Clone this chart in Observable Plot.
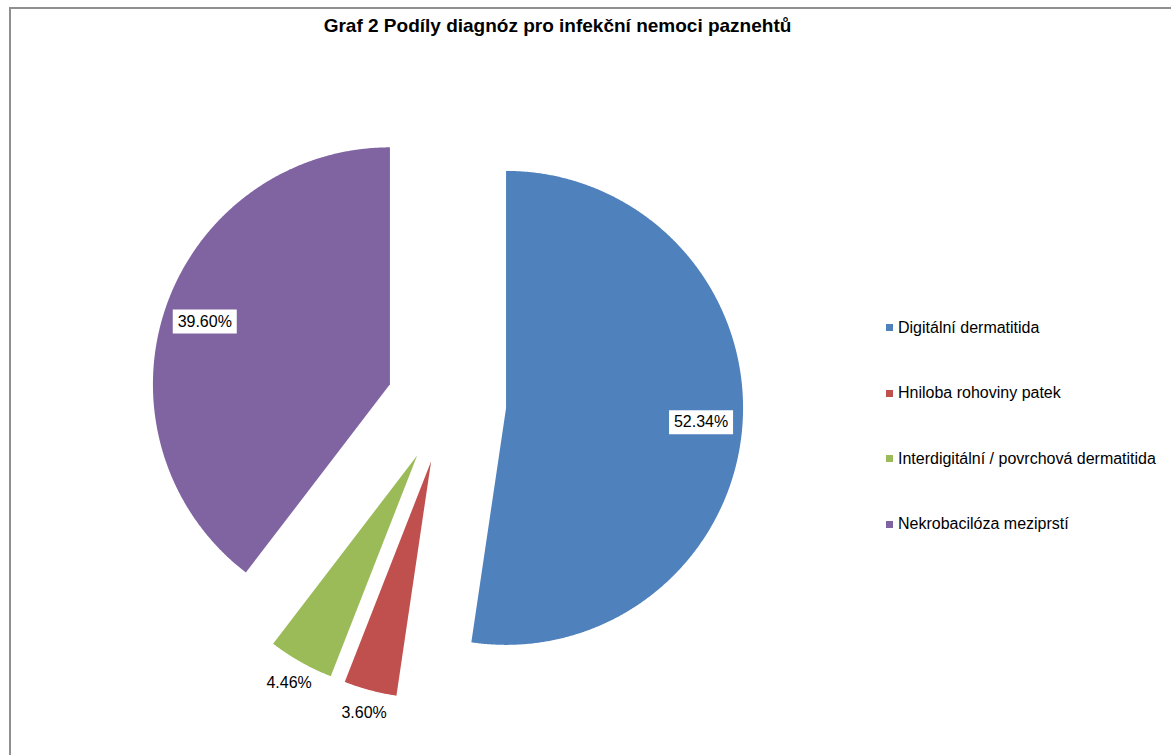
<!DOCTYPE html>
<html>
<head>
<meta charset="utf-8">
<script src="https://cdn.jsdelivr.net/npm/d3@7"></script>
<script src="https://cdn.jsdelivr.net/npm/@observablehq/plot@0.6"></script>
<style>
  html, body { margin: 0; padding: 0; background: #fff; }
  #wrap { position: relative; width: 1171px; height: 755px; overflow: hidden; font-family: Arial, "Liberation Sans", sans-serif; }
  #frame { position: absolute; left: 9px; top: 7px; width: 1300px; height: 900px; border-top: 2px solid #8f8f8f; border-left: 2px solid #8f8f8f; box-sizing: border-box; }
  #chart { position: absolute; left: 0; top: 0; }
  #title { position: absolute; left: 0; width: 1115px; top: 16px; text-align: center; font-weight: bold; font-size: 19px; line-height: 19px; color: #000; white-space: nowrap; }
  #legend { position: absolute; left: 886px; top: 295px; }
  .item { height: 65.5px; display: flex; align-items: center; font-size: 16px; color: #000; white-space: nowrap; }
  .sw { width: 7px; height: 7px; margin-right: 5px; flex: none; }
</style>
</head>
<body>
<div id="wrap">
  <div id="frame"></div>
  <div id="chart"></div>
  <div id="title"></div>
  <div id="legend"></div>
</div>
<script>
// ---- data ----
const title = "Graf 2 Podíly diagnóz pro infekční nemoci paznehtů";
const categories = [
  "Digitální dermatitida",
  "Hniloba rohoviny patek",
  "Interdigitální / povrchová dermatitida",
  "Nekrobacilóza meziprstí"
];
const shares = [52.34, 3.60, 4.46, 39.60];

// ---- styles ----
const colors = ["#4F81BD", "#C0504D", "#9BBB59", "#8064A2"];
const W = 1171, H = 755;
const cxPx = 446, cyPx = 403, rPx = 237;   // pie centre & radius (layout)
const explode = 0.252;                     // explosion, fraction of radius

// ---- geometry from d3.pie (unit radius, y up) ----
const arcs = d3.pie().sort(null).value(d => d)(shares);
const slicePts = [];
const labels = [];
arcs.forEach((a, i) => {
  const cat = categories[i];
  const mid = (a.startAngle + a.endAngle) / 2;
  const ox = explode * Math.sin(mid), oy = explode * Math.cos(mid);
  slicePts.push({cat, x: ox, y: oy});
  const n = Math.max(4, Math.ceil((a.endAngle - a.startAngle) / 0.005));
  for (let k = 0; k <= n; k++) {
    const t = a.startAngle + (a.endAngle - a.startAngle) * k / n;
    slicePts.push({cat, x: ox + Math.sin(t), y: oy + Math.cos(t)});
  }
  slicePts.push({cat, x: ox, y: oy});
  const inside = shares[i] > 10;
  const lr = inside ? 0.825 : 1.1;
  labels.push({cat, inside, x: ox + lr * Math.sin(mid), y: oy + lr * Math.cos(mid), text: shares[i].toFixed(2) + "%"});
});

const boxSymbol = { draw(ctx) { ctx.rect(-32, -12, 64, 24); } };

const plot = Plot.plot({
  width: W,
  height: H,
  marginTop: 0, marginRight: 0, marginBottom: 0, marginLeft: 0,
  x: {axis: null, domain: [-cxPx / rPx, (W - cxPx) / rPx]},
  y: {axis: null, domain: [-(H - cyPx) / rPx, cyPx / rPx]},
  color: {domain: categories, range: colors},
  style: {fontFamily: "Arial, 'Liberation Sans', sans-serif", background: "transparent"},
  marks: [
    Plot.line(slicePts, {x: "x", y: "y", z: "cat", fill: "cat", stroke: "none", curve: "linear"}),
    Plot.dot(labels.filter(d => d.inside), {x: "x", y: "y", symbol: boxSymbol, fill: "white", stroke: "none"}),
    Plot.text(labels, {x: "x", y: "y", text: "text", fontSize: 16, fill: "#000", fontFamily: "Arial, 'Liberation Sans', sans-serif"})
  ]
});
document.getElementById("chart").appendChild(plot);

document.getElementById("title").textContent = title;
const legend = document.getElementById("legend");
categories.forEach((c, i) => {
  const it = document.createElement("div");
  it.className = "item";
  const sw = document.createElement("span");
  sw.className = "sw";
  sw.style.background = colors[i];
  const tx = document.createElement("span");
  tx.textContent = c;
  it.appendChild(sw); it.appendChild(tx);
  legend.appendChild(it);
});
</script>
</body>
</html>
